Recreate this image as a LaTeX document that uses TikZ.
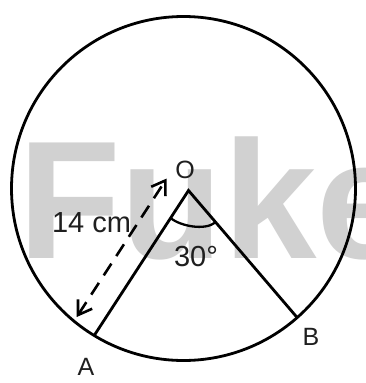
\documentclass[tikz,border=0pt]{standalone}
\usepackage{fontspec}
\setmainfont{Liberation Sans}
\usetikzlibrary{arrows.meta}
\begin{document}
\begin{tikzpicture}[x=1pt,y=-1pt,
  edge/.style={line width=2.8pt, draw=black},
  anglearc/.style={line width=2.3pt, draw=black},
  radiusarrow/.style={line width=2.6pt, dash pattern=on 14pt off 9pt,
    {Straight Barb[length=13pt,width=17pt]}-{Straight Barb[length=13pt,width=17pt]}},
  lbl/.style={inner sep=0pt, text=black!88, font=\fontsize{25}{25}\selectfont},
  numlbl/.style={inner sep=0pt, text=black!88, font=\fontsize{29}{29}\selectfont},
  watermark/.style={inner sep=0pt, anchor=base west, text=black!18,
    font=\fontsize{168}{168}\selectfont\bfseries}]
\fill[white] (0,0) rectangle (366,383);
\useasboundingbox (0,0) rectangle (366,383);
% watermark
\node[watermark] (wm) at (18,258) {Fuke};
% geometry
\coordinate (C) at (183.5,188.5);
\coordinate (V) at (188.5,190.5);
\coordinate (A) at (94.2,335.5);
\coordinate (B) at (297.2,317.6);
\draw[edge] (C) circle[radius=172pt];
\draw[edge] (A) -- (V) -- (B);
% angle mark
\coordinate (a1) at (170.6,218);
\coordinate (a2) at (215.5,222.3);
\draw[anglearc] (a1) .. controls (180,226) and (205,231) .. (a2);
% radius arrow
\coordinate (d1) at (76.7,317);
\coordinate (d2) at (166.7,178.5);
\draw[radiusarrow] (d1) -- (d2);
% labels
\node[lbl] (lO) at (185,170) {O};
\node[lbl] (lA) at (86,366.5) {A};
\node[lbl] (lB) at (311,337) {B};
\node[numlbl] (l14) at (91.5,223) {14 cm};
\node[numlbl] (l30) at (196,257) {30°};
\end{tikzpicture}
\end{document}
